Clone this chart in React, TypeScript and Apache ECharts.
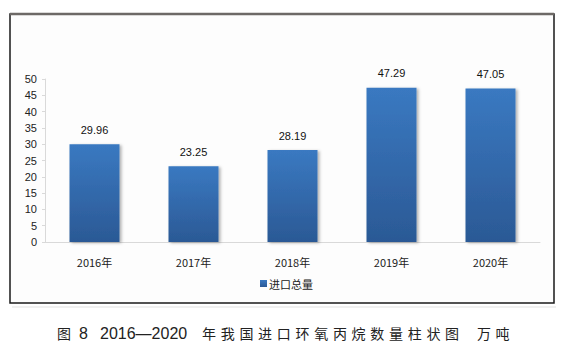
import React, { useEffect, useRef } from "react";
import * as echarts from "echarts";

const categories = ["2016年", "2017年", "2018年", "2019年", "2020年"];
const importTotals = [29.96, 23.25, 28.19, 47.29, 47.05];
const seriesName = "进口总量";
const yTicks = { min: 0, max: 50, interval: 5 };
const captionFigure = "图";
const captionNumber = "8";
const captionYears = "2016—2020";
const captionBody = "年我国进口环氧丙烷数量柱状图";
const captionUnit = "万吨";

export default function App() {
  const ref = useRef<HTMLDivElement>(null);
  useEffect(() => {
    if (!ref.current) return;
    const chart = echarts.init(ref.current, null, { renderer: "svg" });
    const capFont = "'Noto Sans CJK SC', sans-serif";
    const latinFont = "'Liberation Sans', sans-serif";
    const capY = 333;
    const capStyle = (text: string, latin = false) => ({
      text,
      fill: "#222",
      font: latin ? `16px ${latinFont}` : `14px ${capFont}`,
      textVerticalAlign: "middle",
    });
    const bodyChars = captionBody.split("").map((ch, i) => ({
      type: "text",
      x: 202 + i * 18.7,
      y: capY,
      style: capStyle(ch),
    }));
    const unitChars = captionUnit.split("").map((ch, i) => ({
      type: "text",
      x: 477 + i * 18.5,
      y: capY,
      style: capStyle(ch),
    }));
    chart.setOption({
      animation: false,
      backgroundColor: "#ffffff",
      graphic: [
        {
          type: "rect",
          z: -10,
          shape: { x: 10, y: 14, width: 544, height: 289 },
          style: { fill: "#fdfdfd", stroke: "#1a1a1a", lineWidth: 1.5 },
        },
        {
          type: "line",
          z: -9,
          shape: { x1: 10, y1: 14, x2: 554, y2: 14 },
          style: { stroke: "#6d6966", lineWidth: 2.5 },
        },
        {
          type: "line",
          z: -11,
          shape: { x1: 12, y1: 307, x2: 556, y2: 307 },
          style: { stroke: "#f0f0f0", lineWidth: 2 },
        },
        { type: "text", x: 57, y: capY, style: capStyle(captionFigure) },
        { type: "text", x: 79, y: capY, style: capStyle(captionNumber, true) },
        { type: "text", x: 100, y: capY, style: capStyle(captionYears, true) },
        ...bodyChars,
        ...unitChars,
      ],
      grid: { left: 45, right: 23, top: 79, bottom: 122, containLabel: false },
      legend: {
        data: [seriesName],
        left: 255,
        top: 273,
        itemWidth: 7,
        itemHeight: 7,
        icon: "rect",
        textStyle: { fontSize: 11, color: "#222", fontFamily: "'Noto Sans CJK SC', sans-serif", padding: [0, 0, 0, -3] },
      },
      xAxis: {
        type: "category",
        data: categories,
        axisLine: { show: true, lineStyle: { color: "#d9d9d9", width: 1 } },
        axisTick: { show: false },
        axisLabel: {
          margin: 14,
          fontSize: 11,
          color: "#222",
          fontFamily: "'Noto Sans CJK SC', sans-serif",
        },
      },
      yAxis: {
        type: "value",
        min: yTicks.min,
        max: yTicks.max,
        interval: yTicks.interval,
        splitLine: { show: false },
        axisLine: { show: true, lineStyle: { color: "#d9d9d9", width: 1 } },
        axisTick: { show: true, length: 3, lineStyle: { color: "#d9d9d9" } },
        axisLabel: {
          margin: 8,
          fontSize: 11,
          color: "#222",
          fontFamily: "'Liberation Sans', sans-serif",
        },
      },
      series: [
        {
          name: seriesName,
          type: "bar",
          data: importTotals,
          barWidth: 50,
          itemStyle: {
            color: new echarts.graphic.LinearGradient(0, 0, 0, 1, [
              { offset: 0, color: "#3a79c1" },
              { offset: 1, color: "#2b5995" },
            ]),
            shadowColor: "rgba(0,0,0,0.3)",
            shadowBlur: 3,
            shadowOffsetX: 2,
            shadowOffsetY: 1,
          },
          label: {
            show: true,
            position: "top",
            distance: 9,
            fontSize: 11,
            color: "#111",
            fontFamily: "'Liberation Sans', sans-serif",
            formatter: (p: any) => p.value.toFixed(2),
          },
        },
      ],
    });
    return () => chart.dispose();
  }, []);
  return (
    <div
      ref={ref}
      style={{ position: "fixed", left: 0, top: 0, width: 563, height: 364 }}
    />
  );
}
